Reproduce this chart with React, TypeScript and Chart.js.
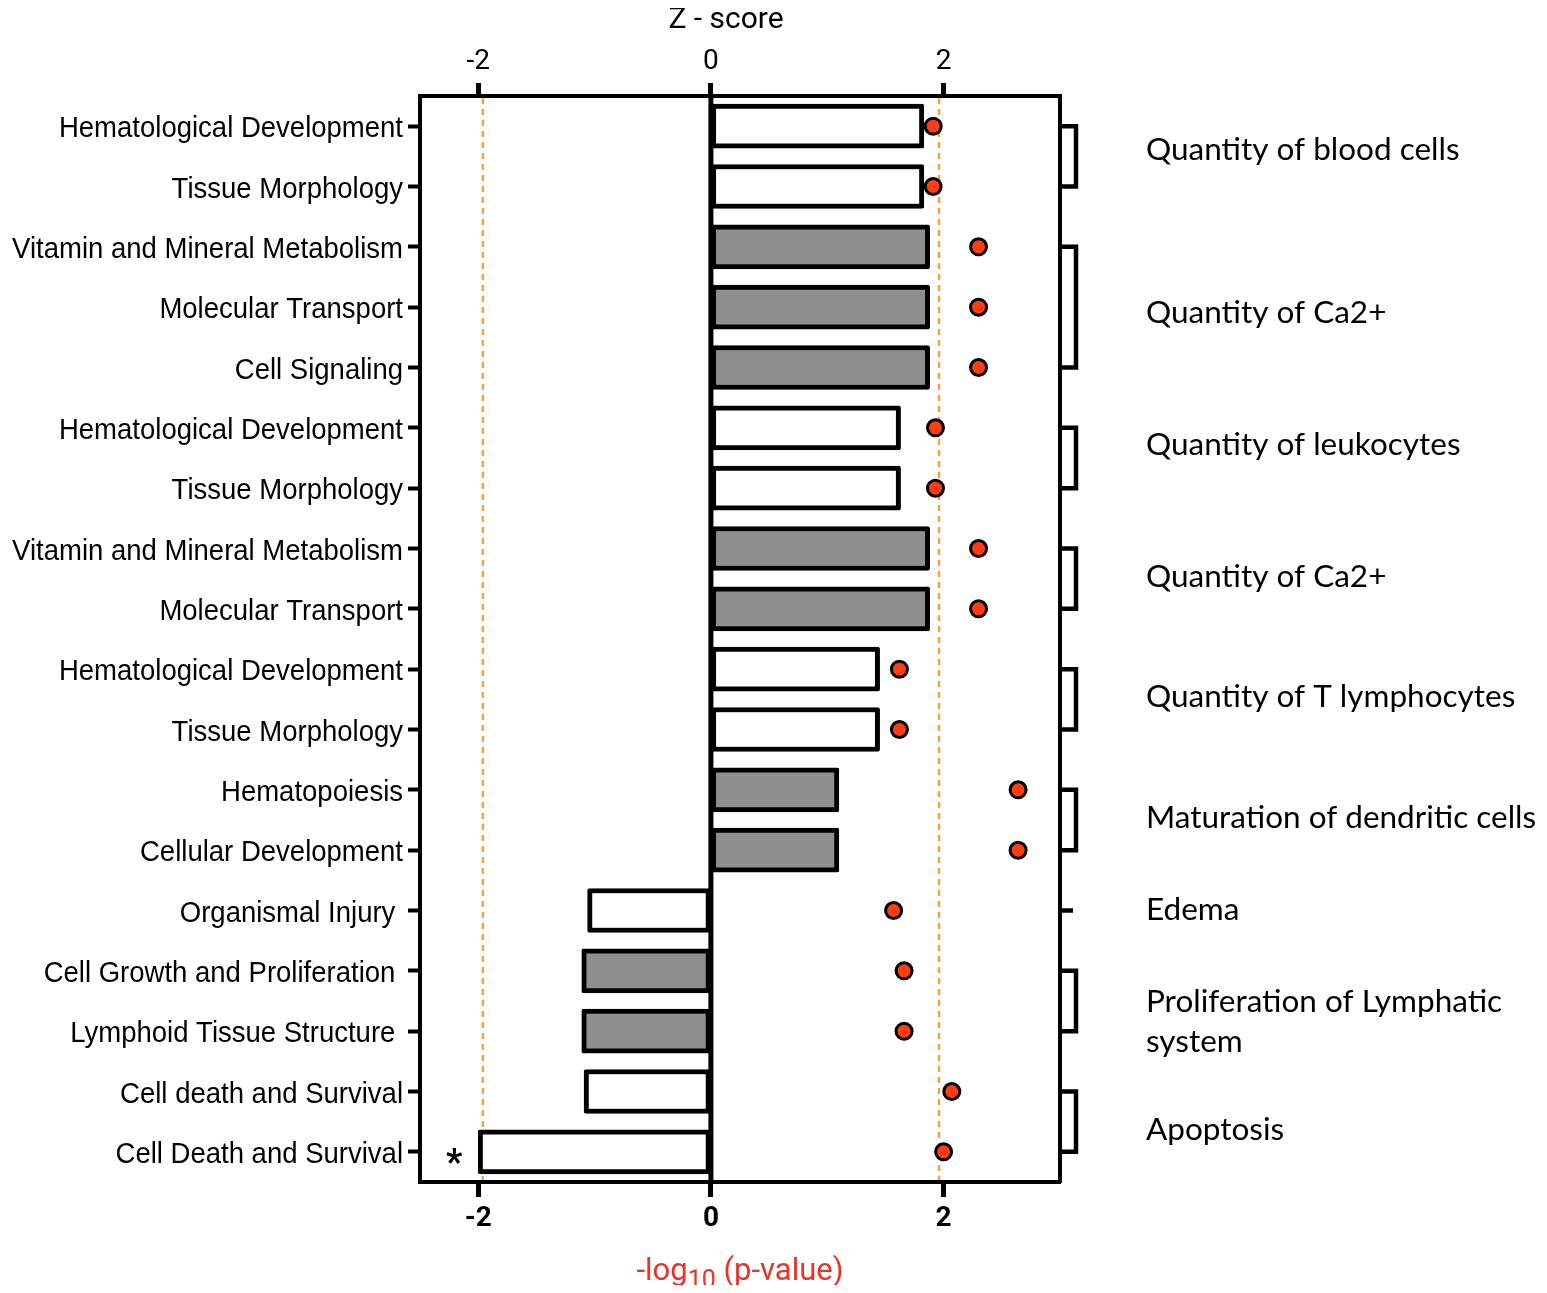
import { useEffect, useRef } from "react";
import { Chart, registerables } from "chart.js";

Chart.register(...registerables);

// Functional categories, one bar (z-score) and one dot (-log10 p) per row
const categories = [
  "Hematological Development",
  "Tissue Morphology",
  "Vitamin and Mineral Metabolism",
  "Molecular Transport",
  "Cell Signaling",
  "Hematological Development",
  "Tissue Morphology",
  "Vitamin and Mineral Metabolism",
  "Molecular Transport",
  "Hematological Development",
  "Tissue Morphology",
  "Hematopoiesis",
  "Cellular Development",
  "Organismal Injury ",
  "Cell Growth and Proliferation ",
  "Lymphoid Tissue Structure ",
  "Cell death and Survival",
  "Cell Death and Survival",
];

const zScores = [
  1.83, 1.83, 1.88, 1.88, 1.88, 1.63, 1.63, 1.88, 1.88, 1.45, 1.45, 1.1, 1.1,
  -1.06, -1.11, -1.11, -1.09, -2.0,
];

const negLogP = [
  1.91, 1.91, 2.3, 2.3, 2.3, 1.93, 1.93, 2.3, 2.3, 1.62, 1.62, 2.64, 2.64,
  1.57, 1.66, 1.66, 2.07, 2.0,
];

const shaded = [
  false, false, true, true, true, false, false, true, true, false, false, true,
  true, false, true, true, false, false,
];

// Rows flagged with an asterisk
const starredRows = [17];

// Functions annotated on the right, each spanning a range of rows
const groupNames = [
  ["Quantity of blood cells"],
  ["Quantity of Ca2+"],
  ["Quantity of leukocytes"],
  ["Quantity of Ca2+"],
  ["Quantity of T lymphocytes"],
  ["Maturation of dendritic cells"],
  ["Edema"],
  ["Proliferation of Lymphatic", "system"],
  ["Apoptosis"],
];
const groupStart = [0, 2, 5, 7, 9, 11, 13, 14, 16];
const groupEnd = [1, 4, 6, 8, 10, 12, 13, 15, 17];

const axisTicks = [-2, 0, 2];
const zThresholds = [-1.96, 1.96];
const xMin = -2.5;
const xMax = 3.0;

const W = 1531;
const H = 1277;
const LEFT_W = 412;
const RIGHT_W = W - 1052;
const TOP_H = 88;
const BOTTOM_H = H - 1174;

const SANS = "Roboto, 'Liberation Sans', Arial, sans-serif";
const ARIAL = "'Liberation Sans', Arial, sans-serif";
const HUMANIST = "Lato, 'Open Sans', sans-serif";

// category labels are set in a slightly condensed Arial
const LABEL_SIZE = 30;
const LABEL_SQUEEZE = 0.917;
const Y_TICK_LEN = 12;

// vertical fine-tuning of the right-hand group labels (px)
const GROUP_LABEL_SHIFT = [-6, 6, -13, -2, -2, -2, -1, 21, 8];

const decorations = {
  id: "decorations",
  beforeDatasetsDraw(chart: any) {
    const { ctx, chartArea } = chart;
    const x = chart.scales.x;
    ctx.save();
    ctx.strokeStyle = "#f9a23a";
    ctx.lineWidth = 2.5;
    ctx.setLineDash([6, 5]);
    zThresholds.forEach((v) => {
      const px = x.getPixelForValue(v);
      ctx.beginPath();
      ctx.moveTo(px, chartArea.top + 2);
      ctx.lineTo(px, chartArea.bottom - 2);
      ctx.stroke();
    });
    ctx.restore();
  },
  afterDatasetDraw(chart: any, args: any) {
    if (args.meta.type !== "bar") return;
    const { ctx, chartArea } = chart;
    const px = chart.scales.x.getPixelForValue(0);
    ctx.save();
    ctx.strokeStyle = "#000";
    ctx.lineWidth = 5;
    ctx.beginPath();
    ctx.moveTo(px, chartArea.top);
    ctx.lineTo(px, chartArea.bottom);
    ctx.stroke();
    ctx.restore();
  },
  afterDraw(chart: any) {
    const { ctx, chartArea } = chart;
    const x = chart.scales.x;
    const y = chart.scales.y;
    ctx.save();

    // category labels along the left axis
    ctx.fillStyle = "#000";
    ctx.font = `${LABEL_SIZE}px ${ARIAL}`;
    ctx.textAlign = "right";
    ctx.textBaseline = "middle";
    const labelRight = chartArea.left - Y_TICK_LEN - 5;
    categories.forEach((c, i) => {
      ctx.save();
      ctx.translate(labelRight, y.getPixelForValue(i) + 3);
      ctx.scale(LABEL_SQUEEZE, 1);
      ctx.fillText(c, 0, 0);
      ctx.restore();
    });

    // asterisks beside flagged bars
    ctx.font = `bold 36px ${SANS}`;
    ctx.textAlign = "center";
    ctx.textBaseline = "middle";
    starredRows.forEach((i) => {
      const px = x.getPixelForValue(Math.min(0, zScores[i])) - 24;
      ctx.fillText("*", px, y.getPixelForValue(i) + 13);
    });

    // group brackets and labels on the right
    const right = chartArea.right;
    ctx.strokeStyle = "#000";
    ctx.lineWidth = 4.5;
    ctx.lineJoin = "miter";
    ctx.font = `31.5px ${HUMANIST}`;
    ctx.textAlign = "left";
    ctx.textBaseline = "middle";
    groupNames.forEach((lines, g) => {
      const y0 = y.getPixelForValue(groupStart[g]);
      const y1 = y.getPixelForValue(groupEnd[g]);
      ctx.beginPath();
      if (groupStart[g] === groupEnd[g]) {
        ctx.moveTo(right, y0);
        ctx.lineTo(right + 13, y0);
      } else {
        ctx.moveTo(right, y0);
        ctx.lineTo(right + 16, y0);
        ctx.lineTo(right + 16, y1);
        ctx.lineTo(right, y1);
      }
      ctx.stroke();
      const mid = (y0 + y1) / 2 + GROUP_LABEL_SHIFT[g];
      const lh = 40;
      const startY = mid - ((lines.length - 1) * lh) / 2;
      lines.forEach((t, k) => ctx.fillText(t, right + 86, startY + k * lh));
    });

    // axis titles
    ctx.fillStyle = "#000";
    ctx.font = `30px ${SANS}`;
    ctx.textAlign = "center";
    ctx.textBaseline = "middle";
    ctx.fillText("Z - score", x.getPixelForValue(0.13), 12);

    ctx.fillStyle = "#e8342a";
    const main = `31px ${SANS}`;
    const sub = `25px ${SANS}`;
    ctx.font = main;
    const wA = ctx.measureText("-log").width;
    const wC = ctx.measureText(" (p-value)").width;
    ctx.font = sub;
    const wB = ctx.measureText("10").width;
    const cx = x.getPixelForValue(0.25);
    let sx = cx - (wA + wB + wC) / 2;
    const base = 1272;
    ctx.textAlign = "left";
    ctx.textBaseline = "alphabetic";
    ctx.font = main;
    ctx.fillText("-log", sx, base);
    sx += wA;
    ctx.font = sub;
    ctx.fillText("10", sx, base + 8);
    sx += wB;
    ctx.font = main;
    ctx.fillText(" (p-value)", sx, base);
    ctx.restore();
  },
};

export default function App() {
  const ref = useRef<HTMLCanvasElement>(null);

  useEffect(() => {
    const fixTicks = (scale: any) => {
      scale.ticks = axisTicks.map((v) => ({ value: v }));
    };
    const chart = new Chart(ref.current as HTMLCanvasElement, {
      type: "bar",
      data: {
        labels: categories,
        datasets: [
          {
            type: "line",
            label: "-log10 p",
            data: negLogP,
            showLine: false,
            pointRadius: 8,
            pointBorderWidth: 3,
            pointBackgroundColor: "#ff3d14",
            pointBorderColor: "#000",
            order: 0,
          } as any,
          {
            type: "bar",
            label: "Z-score",
            data: zScores,
            backgroundColor: shaded.map((s) => (s ? "#8f8f8f" : "#ffffff")),
            borderColor: "#000",
            borderWidth: 5,
            borderRadius: 2,
            borderSkipped: false,
            barThickness: 44,
            order: 1,
          },
        ],
      },
      plugins: [decorations],
      options: {
        indexAxis: "y",
        responsive: false,
        maintainAspectRatio: false,
        animation: false,
        layout: { padding: 0 },
        plugins: {
          legend: { display: false },
          tooltip: { enabled: false },
        },
        scales: {
          y: {
            type: "category",
            position: "left",
            offset: true,
            afterFit: (s: any) => {
              s.width = LEFT_W;
            },
            grid: {
              display: true,
              drawOnChartArea: false,
              offset: false,
              drawTicks: true,
              tickLength: Y_TICK_LEN,
              tickWidth: 4,
              tickColor: "#000",
            },
            border: { display: true, color: "#000", width: 4 },
            ticks: { display: false, autoSkip: false },
          },
          y2: {
            type: "category",
            position: "right",
            offset: true,
            afterFit: (s: any) => {
              s.width = RIGHT_W;
            },
            grid: { display: false },
            border: { display: true, color: "#000", width: 4 },
            ticks: { display: false },
          },
          x: {
            type: "linear",
            position: "bottom",
            min: xMin,
            max: xMax,
            afterBuildTicks: fixTicks,
            afterFit: (s: any) => {
              s.height = BOTTOM_H;
            },
            grid: {
              display: true,
              drawOnChartArea: false,
              drawTicks: true,
              tickLength: 15,
              tickWidth: 5,
              tickColor: "#000",
            },
            border: { display: true, color: "#000", width: 4 },
            ticks: {
              color: "#000",
              padding: 5,
              font: { family: SANS, size: 28, weight: "bold" },
            },
          },
          x2: {
            type: "linear",
            position: "top",
            min: xMin,
            max: xMax,
            afterBuildTicks: fixTicks,
            afterFit: (s: any) => {
              s.height = TOP_H;
            },
            grid: {
              display: true,
              drawOnChartArea: false,
              drawTicks: true,
              tickLength: 13,
              tickWidth: 5,
              tickColor: "#000",
            },
            border: { display: true, color: "#000", width: 4 },
            ticks: {
              color: "#000",
              padding: 4,
              font: { family: SANS, size: 28 },
            },
          },
        },
      },
    } as any);
    return () => chart.destroy();
  }, []);

  return (
    <canvas
      ref={ref}
      width={W}
      height={H}
      style={{ display: "block", width: W, height: H }}
    />
  );
}
